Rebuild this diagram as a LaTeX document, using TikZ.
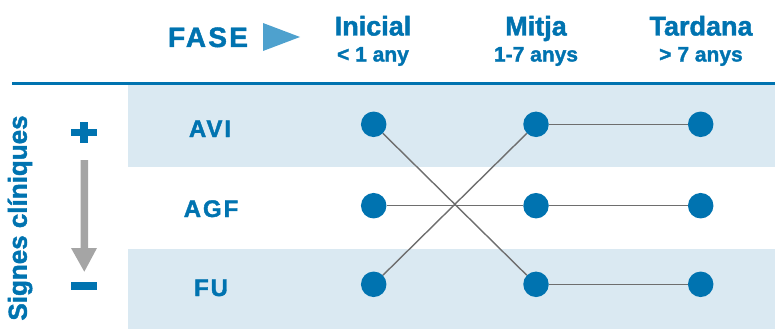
\documentclass[tikz,border=0pt]{standalone}
\usepackage{fontspec}
\setmainfont{Liberation Sans}[BoldFeatures={FakeBold=1.6}]
\definecolor{dblue}{HTML}{0073B0}
\definecolor{lblue}{HTML}{DAE9F2}
\definecolor{tblue}{HTML}{4EA1CE}
\definecolor{agray}{HTML}{A5A5A5}
\definecolor{lgray}{HTML}{6E6E6E}
\tikzset{
  dot/.style={circle,fill=dblue,minimum size=25.5pt,inner sep=0pt},
  conn/.style={draw=lgray,line width=1.4pt},
  head/.style={text=dblue,font=\fontsize{27}{28}\selectfont\bfseries,align=center,inner sep=0pt},
  sub/.style={text=dblue,font=\fontsize{21}{22}\selectfont\bfseries,inner sep=0pt},
  rowlab/.style={text=dblue,font=\fontsize{24}{24}\selectfont\bfseries\addfontfeature{LetterSpace=8},inner sep=0pt},
}
\begin{document}
\begin{tikzpicture}[x=1pt,y=-1pt]
\useasboundingbox (0,0) rectangle (775,329);
% bands
\fill[lblue] (128,85) rectangle (775,167);
\fill[lblue] (128,249) rectangle (775,329);
% top rule
\draw[dblue,line width=3pt] (12,83.5) -- (775,83.5);
% header
\node[head,anchor=base,font=\fontsize{28}{28}\selectfont\bfseries\addfontfeature{LetterSpace=8}] (fase) at (208,47) {FASE};
\fill[tblue] (263,23) -- (263,51) -- (300,37) -- cycle;
\node[head,anchor=base] (hi) at (373,35.5) {Inicial};
\node[head,anchor=base] (hm) at (536,35.5) {Mitja};
\node[head,anchor=base] (ht) at (701,35.5) {Tardana};
\node[sub,anchor=base] (si) at (373,61.5) {< 1 any};
\node[sub,anchor=base] (sm) at (536,61.5) {1-7 anys};
\node[sub,anchor=base] (st) at (701,61.5) {> 7 anys};
% row labels
\node[rowlab,anchor=base] (avi) at (210,137) {AVI};
\node[rowlab,anchor=base] (agf) at (211,217) {AGF};
\node[rowlab,anchor=base] (fu) at (211,296) {FU};
% side label
\node[text=dblue,font=\fontsize{26}{26}\selectfont\bfseries,rotate=90,inner sep=0pt] (sc) at (20,218) {Signes clíniques};
% plus / minus
\fill[dblue] (71,128.5) rectangle (97,135.5);
\fill[dblue] (80,121.5) rectangle (88,142.5);
\fill[dblue] (71,282) rectangle (97,290);
% gray arrow
\fill[agray] (80.7,160) -- (88,160) -- (88,248) -- (97,248) -- (84.3,271.7) -- (71,248) -- (80.7,248) -- cycle;
% dots
\node[dot] (a1) at (373.7,124.3) {};
\node[dot] (a2) at (536,124.3) {};
\node[dot] (a3) at (700.7,124.3) {};
\node[dot] (g1) at (373.7,205.7) {};
\node[dot] (g2) at (536,205.7) {};
\node[dot] (g3) at (700.7,205.7) {};
\node[dot] (f1) at (373.7,284.3) {};
\node[dot] (f2) at (536,284.3) {};
\node[dot] (f3) at (700.7,284.3) {};
% connectors
\draw[conn] (a1) -- (f2);
\draw[conn] (f1) -- (a2);
\draw[conn] (g1) -- (g2);
\draw[conn] (a2) -- (a3);
\draw[conn] (g2) -- (g3);
\draw[conn] (f2) -- (f3);
\end{tikzpicture}
\end{document}
